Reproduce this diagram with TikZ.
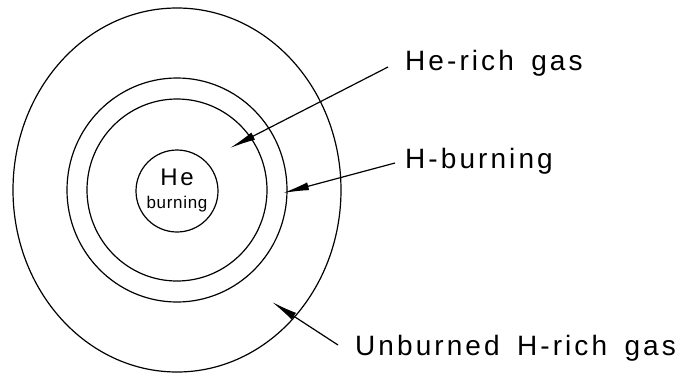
\documentclass[tikz,border=0pt]{standalone}
\usepackage{fontspec}
\setmainfont{Liberation Sans}[LetterSpace=11, WordSpace=1.6]
\usetikzlibrary{arrows.meta, positioning, calc}

\begin{document}
\begin{tikzpicture}[
    x=1pt, y=-1pt,
    shell/.style={draw=black, line width=1.2pt},
    lbl/.style={anchor=base west, inner sep=0pt, font=\fontsize{28}{28}\selectfont},
    pointer/.style={-{Latex[length=26pt, width=8pt]}, line width=1.2pt, black}
]
    \useasboundingbox (0,0) rectangle (691,373);
    \coordinate (centre) at (177,190);

    % Shells
    \draw[shell] (centre) ellipse [x radius=164, y radius=182];
    \draw[shell] (centre) ellipse [x radius=110, y radius=112];
    \draw[shell] (centre) ellipse [x radius=90, y radius=91];
    \node[circle, shell, minimum size=82pt, inner sep=0pt, align=center,
          font=\fontsize{17}{23}\selectfont] (core) at (177,191)
        {{\fontsize{24}{23}\selectfont He}\\{\addfontfeature{LetterSpace=4}burning}};

    % Labels
    \node[lbl] (herich) at (405,70) {He-rich gas};
    \node[lbl] (hburn) at (405,168) {H-burning};
    \node[lbl] (unburned) at (355,355) {Unburned H-rich gas};

    % Arrow tips
    \coordinate (herichtip) at (230,148);
    \coordinate (hburntip) at (283,193);
    \coordinate (unburnedtip) at (272,302);

    % Connections
    \draw[pointer] ([shift={(-17pt,3pt)}]herich.base west) -- (herichtip);
    \draw[pointer] ([shift={(-10pt,5pt)}]hburn.base west) -- (hburntip);
    \draw[pointer] ([shift={(-17pt,10pt)}]unburned.base west) -- (unburnedtip);
\end{tikzpicture}
\end{document}
